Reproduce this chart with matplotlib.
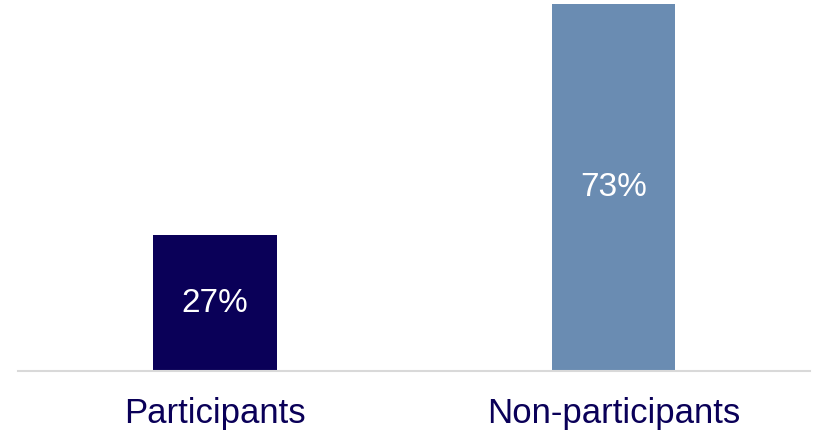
import matplotlib.pyplot as plt

# Chart data
categories = ["Participants", "Non-participants"]
values = [27, 73]
labels = ["27%", "73%"]
bar_colors = ["#0a0058", "#6a8cb2"]
text_color = "#0a0058"

plt.rcParams["font.family"] = ["Liberation Sans", "DejaVu Sans"]

fig = plt.figure(figsize=(8.13, 4.33), dpi=100)
ax = fig.add_axes([18 / 813, 62 / 433, 792 / 813, 367 / 433])

x = list(range(len(categories)))
bars = ax.bar(x, values, width=0.311, color=bar_colors)

# Value labels inside the bars
for bar, val, lab in zip(bars, values, labels):
    ax.text(bar.get_x() + bar.get_width() / 2, val / 2, lab,
            ha="center", va="center", color="white", fontsize=24)

ax.set_xlim(-0.494, 1.493)
ax.set_ylim(0, 73)
ax.set_xticks(x)
ax.set_xticklabels(categories, fontsize=25, color=text_color)
ax.tick_params(axis="x", length=0, pad=19)
ax.set_yticks([])

for side in ["top", "right", "left"]:
    ax.spines[side].set_visible(False)
ax.spines["bottom"].set_color("#d9d9d9")
ax.spines["bottom"].set_linewidth(1.5)

fig.savefig("out.png", dpi=100)
plt.close(fig)
